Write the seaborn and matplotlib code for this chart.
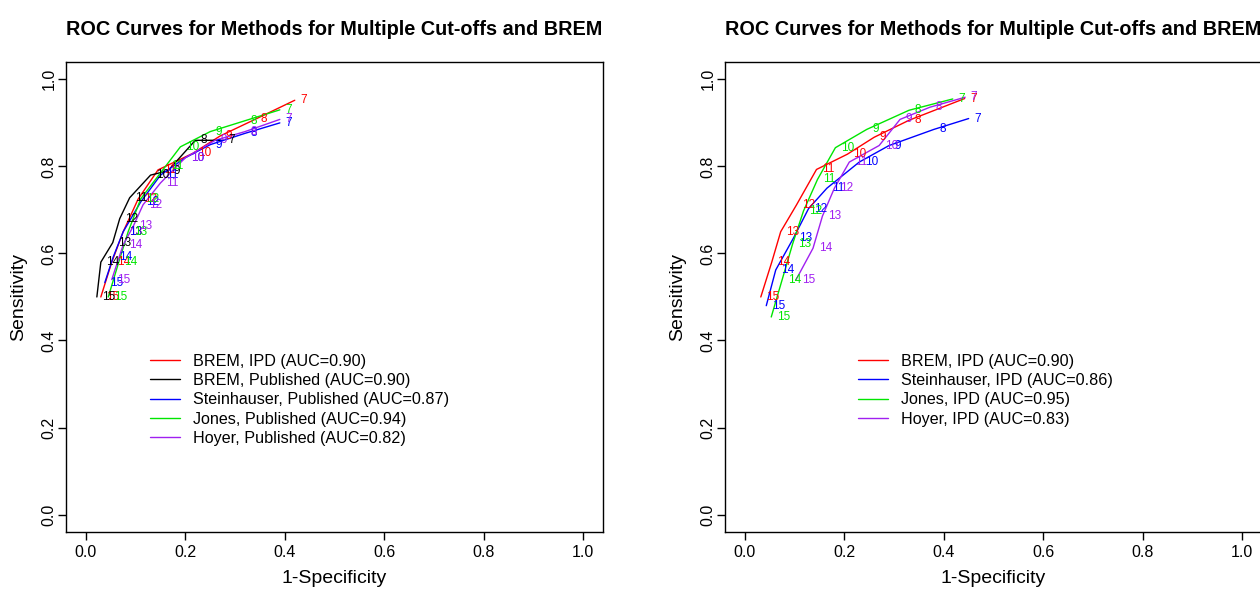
import matplotlib
matplotlib.use("Agg")
import matplotlib.pyplot as plt
import seaborn as sns

# cut-off labels along each curve (7 at the top end, 15 at the bottom end)
cutoffs = [7, 8, 9, 10, 11, 12, 13, 14, 15]

# left panel: BREM vs published methods
brem_ipd_x = [0.42, 0.34, 0.27, 0.215, 0.145, 0.105, 0.075, 0.052, 0.030]
brem_ipd_y = [0.952, 0.908, 0.870, 0.830, 0.792, 0.725, 0.650, 0.580, 0.500]
brem_pub_x = [0.275, 0.220, 0.165, 0.130, 0.088, 0.068, 0.054, 0.030, 0.022]
brem_pub_y = [0.860, 0.860, 0.790, 0.780, 0.728, 0.680, 0.625, 0.580, 0.500]
stein_pub_x = [0.39, 0.32, 0.25, 0.20, 0.15, 0.11, 0.075, 0.055, 0.038]
stein_pub_y = [0.900, 0.876, 0.850, 0.820, 0.780, 0.718, 0.650, 0.592, 0.533]
jones_pub_x = [0.39, 0.32, 0.25, 0.19, 0.160, 0.110, 0.085, 0.066, 0.045]
jones_pub_y = [0.930, 0.905, 0.880, 0.845, 0.800, 0.725, 0.650, 0.580, 0.500]
hoyer_pub_x = [0.39, 0.32, 0.26, 0.20, 0.150, 0.115, 0.095, 0.075, 0.052]
hoyer_pub_y = [0.908, 0.880, 0.860, 0.820, 0.762, 0.712, 0.662, 0.620, 0.540]

# right panel: all methods on IPD
brem_r_x = [0.442, 0.330, 0.260, 0.206, 0.144, 0.104, 0.072, 0.054, 0.032]
brem_r_y = [0.956, 0.906, 0.867, 0.828, 0.793, 0.712, 0.650, 0.580, 0.500]
stein_r_x = [0.450, 0.380, 0.290, 0.230, 0.165, 0.128, 0.098, 0.062, 0.043]
stein_r_y = [0.910, 0.885, 0.848, 0.810, 0.750, 0.703, 0.636, 0.562, 0.480]
jones_r_x = [0.418, 0.330, 0.245, 0.182, 0.146, 0.118, 0.096, 0.075, 0.053]
jones_r_y = [0.955, 0.929, 0.885, 0.843, 0.770, 0.698, 0.622, 0.540, 0.454]
hoyer_r_x = [0.443, 0.372, 0.312, 0.270, 0.210, 0.180, 0.156, 0.137, 0.103]
hoyer_r_y = [0.959, 0.936, 0.908, 0.848, 0.810, 0.750, 0.686, 0.612, 0.540]

left_series = [
    ("BREM, IPD (AUC=0.90)", brem_ipd_x, brem_ipd_y, "#FF0000"),
    ("BREM, Published (AUC=0.90)", brem_pub_x, brem_pub_y, "#000000"),
    ("Steinhauser, Published (AUC=0.87)", stein_pub_x, stein_pub_y, "#0000FF"),
    ("Jones, Published (AUC=0.94)", jones_pub_x, jones_pub_y, "#00E600"),
    ("Hoyer, Published (AUC=0.82)", hoyer_pub_x, hoyer_pub_y, "#A020F0"),
]
right_series = [
    ("BREM, IPD (AUC=0.90)", brem_r_x, brem_r_y, "#FF0000"),
    ("Steinhauser, IPD (AUC=0.86)", stein_r_x, stein_r_y, "#0000FF"),
    ("Jones, IPD (AUC=0.95)", jones_r_x, jones_r_y, "#00E600"),
    ("Hoyer, IPD (AUC=0.83)", hoyer_r_x, hoyer_r_y, "#A020F0"),
]

sns.set_theme(style="white")
plt.rcParams["font.family"] = ["Liberation Sans", "DejaVu Sans"]
for k in ["text.color", "axes.labelcolor", "xtick.color", "ytick.color"]:
    plt.rcParams[k] = "black"

fig = plt.figure(figsize=(12.6, 5.89), dpi=100)
ax1 = fig.add_axes([0.0524, 0.0968, 0.4262, 0.798])
ax2 = fig.add_axes([0.5754, 0.0968, 0.4262, 0.798])

title = "ROC Curves for Methods for Multiple Cut-offs and BREM"
ticks = [0.0, 0.2, 0.4, 0.6, 0.8, 1.0]


def draw_panel(ax, series, leg_xy):
    for name, xs, ys, col in series:
        sns.lineplot(x=xs, y=ys, sort=False, estimator=None, color=col,
                     linewidth=1.0, label=name, ax=ax)
        for c, px, py in zip(cutoffs, xs, ys):
            ax.annotate(str(c), (px, py), xytext=(4, 0), textcoords="offset points",
                        ha="left", va="center", fontsize=8.5, color=col)
    ax.set_xlim(-0.04, 1.04)
    ax.set_ylim(-0.04, 1.04)
    ax.set_xticks(ticks)
    ax.set_yticks(ticks)
    ax.set_xticklabels([f"{t:.1f}" for t in ticks], fontsize=11.5)
    ax.set_yticklabels([f"{t:.1f}" for t in ticks], fontsize=11.5,
                       rotation=90, va="center")
    ax.tick_params(direction="out", length=5.5, width=1, color="black",
                   bottom=True, left=True)
    ax.tick_params(axis="x", pad=4)
    ax.tick_params(axis="y", pad=1.5)
    for s in ax.spines.values():
        s.set_color("black")
        s.set_linewidth(1)
    ax.set_xlabel("1-Specificity", fontsize=14, labelpad=7)
    ax.set_ylabel("Sensitivity", fontsize=14, labelpad=10)
    ax.set_title(title, fontsize=14.3, fontweight="bold", pad=19.5, color="black")
    ax.legend(loc="upper left", bbox_to_anchor=leg_xy,
              bbox_transform=ax.transData, frameon=False, fontsize=11.6,
              handlelength=1.86, handletextpad=0.8, labelspacing=0.27,
              borderpad=0, borderaxespad=0)


draw_panel(ax1, left_series, (0.129, 0.37))
draw_panel(ax2, right_series, (0.228, 0.37))

fig.savefig("out.png", dpi=100)
